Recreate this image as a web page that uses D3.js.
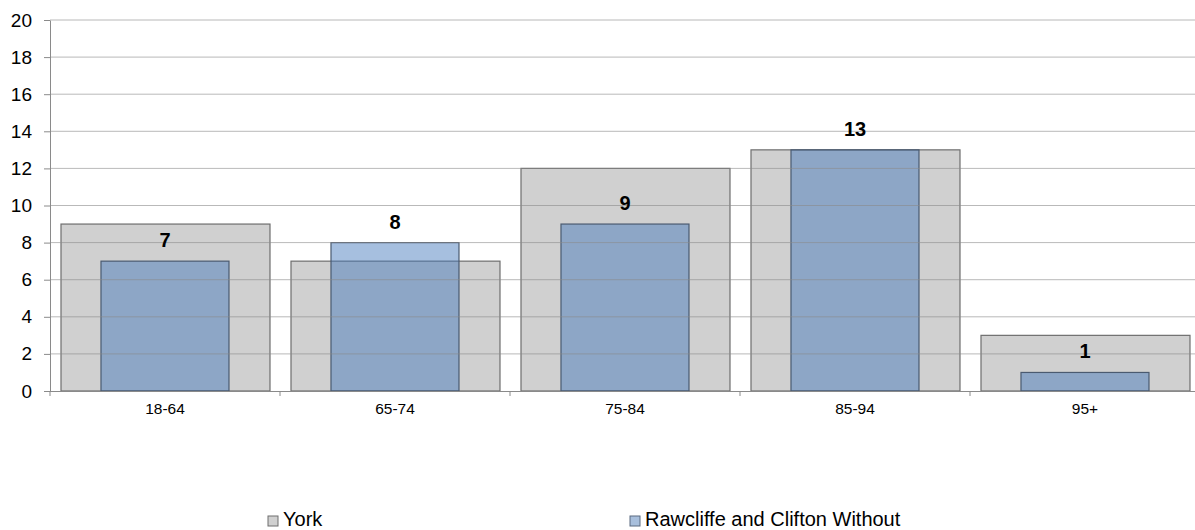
<!DOCTYPE html>
<html><head><meta charset="utf-8">
<script src="https://cdn.jsdelivr.net/npm/d3@7"></script>
<style>body{margin:0;background:#fff;font-family:"Liberation Sans",Arial,sans-serif}</style>
</head><body><svg id="c" width="1195" height="530"></svg>
<script>
const categories = ["18-64","65-74","75-84","85-94","95+"];
const york = [9,7,12,13,3];
const rawcliffe = [7,8,9,13,1];
const yTicks = [0,2,4,6,8,10,12,14,16,18,20];
const seriesNames = ["York","Rawcliffe and Clifton Without"];

const FONT = "Liberation Sans, Arial, sans-serif";
const svg = d3.select("#c");
const m = {l:50, r:1200, t:20, b:391, gridR:1195};
const x = d3.scaleBand().domain(categories).range([m.l, m.r]);
const y = d3.scaleLinear().domain([0,20]).range([m.b, m.t]);
const bw = x.bandwidth();

// York bars
svg.append("g").selectAll("rect").data(categories).join("rect")
  .attr("x", d => x(d) + bw*0.0478).attr("width", bw*0.9087)
  .attr("y", (d,i) => y(york[i])).attr("height", (d,i) => y(0) - y(york[i]))
  .attr("fill", "#d0d0d0").attr("stroke", "#6e6e6e").attr("stroke-width", 1.2);
// Rawcliffe bars (semi-transparent)
svg.append("g").selectAll("rect").data(categories).join("rect")
  .attr("x", d => x(d) + bw*0.2217).attr("width", bw*0.5565)
  .attr("y", (d,i) => y(rawcliffe[i])).attr("height", (d,i) => y(0) - y(rawcliffe[i]))
  .attr("fill", "rgb(66,119,187)").attr("fill-opacity", 0.47)
  .attr("stroke", "#4a5a70").attr("stroke-width", 1.2);

// gridlines on top
svg.append("g").selectAll("line").data(yTicks.filter(t => t>0)).join("line")
  .attr("x1", m.l).attr("x2", m.gridR).attr("y1", d => y(d)).attr("y2", d => y(d))
  .attr("stroke", "#8a8a8a").attr("stroke-opacity", 0.6).attr("stroke-width", 1);

// y axis
const ya = svg.append("g").attr("transform", `translate(${m.l},0)`)
  .call(d3.axisLeft(y).tickValues(yTicks).tickSize(6).tickSizeOuter(0).tickPadding(12));
ya.select(".domain").attr("stroke", "#8a8a8a");
ya.selectAll(".tick line").attr("stroke", "#8a8a8a");
ya.selectAll("text").attr("font-size", 19).attr("fill", "#000").attr("font-family", FONT);

// x axis
const xa = svg.append("g").attr("transform", `translate(0,${m.b})`)
  .call(d3.axisBottom(x).tickSize(0).tickSizeOuter(0).tickPadding(12));
xa.select(".domain").attr("stroke", "#8a8a8a").attr("d", `M${m.l},0.5H${m.gridR}`);
xa.selectAll("text").attr("font-size", 15.5).attr("fill", "#000").attr("font-family", FONT);
svg.append("g").selectAll("line").data(d3.range(categories.length + 1)).join("line")
  .attr("x1", i => m.l + i*bw).attr("x2", i => m.l + i*bw)
  .attr("y1", m.b).attr("y2", m.b + 5).attr("stroke", "#8a8a8a");

// data labels
svg.append("g").selectAll("text").data(categories).join("text")
  .attr("x", d => x(d) + bw/2).attr("y", (d,i) => y(rawcliffe[i]) - 14)
  .attr("text-anchor", "middle").attr("font-size", 20).attr("font-weight", "bold")
  .attr("font-family", FONT)
  .text((d,i) => rawcliffe[i]);

// legend
const leg = [{x:268, c:"#d0d0d0", s:"#6e6e6e"}, {x:630, c:"#a8bfdc", s:"#5a6a80"}];
leg.forEach((l,i) => {
  svg.append("rect").attr("x", l.x).attr("y", 516).attr("width", 10).attr("height", 10)
    .attr("fill", l.c).attr("stroke", l.s).attr("stroke-width", 1);
  svg.append("text").attr("x", l.x + 15).attr("y", 526).attr("font-size", 20)
    .attr("font-family", FONT).text(seriesNames[i]);
});
</script></body></html>
